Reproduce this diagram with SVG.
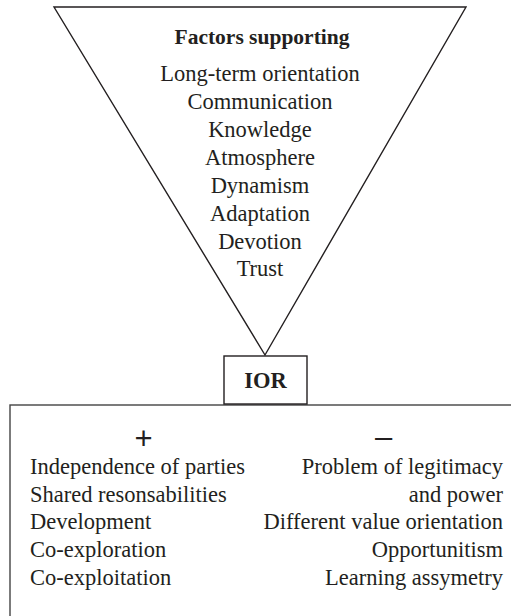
<svg xmlns="http://www.w3.org/2000/svg" width="511" height="616" viewBox="0 0 511 616">
<style>
text{font-family:"Liberation Serif","Times New Roman",serif;font-size:22.5px;fill:#231f20}
.b{font-weight:bold}
.c{text-anchor:middle}
.r{text-anchor:end}
.sign{font-family:"Liberation Sans",Arial,sans-serif;font-size:31px}
.shape{fill:#fff;stroke:#231f20;stroke-width:1.4}
</style>
<rect width="511" height="616" fill="#fff"/>
<g id="factors">
<polygon class="shape" points="54,7 466,7 265,355"/>
<text class="b c" x="262" y="44" style="font-size:21.5px">Factors supporting</text>
<text class="c" x="260" y="81">Long-term orientation</text>
<text class="c" x="260" y="109">Communication</text>
<text class="c" x="260" y="137">Knowledge</text>
<text class="c" x="260" y="165">Atmosphere</text>
<text class="c" x="260" y="193">Dynamism</text>
<text class="c" x="260" y="221">Adaptation</text>
<text class="c" x="260" y="249">Devotion</text>
<text class="c" x="260" y="276">Trust</text>
</g>
<g id="effects">
<rect x="10" y="405" width="520" height="240" fill="#fff" stroke="#444" stroke-width="1.4"/>
<text class="c sign" x="143.5" y="449">+</text>
<text class="c sign" x="383.5" y="447">–</text>
<text x="30" y="474">Independence of parties</text>
<text x="30" y="502">Shared resonsabilities</text>
<text x="30" y="529">Development</text>
<text x="30" y="557">Co-exploration</text>
<text x="30" y="585">Co-exploitation</text>
<text class="r" x="503" y="474">Problem of legitimacy</text>
<text class="r" x="503" y="502">and power</text>
<text class="r" x="503" y="529">Different value orientation</text>
<text class="r" x="503" y="557">Opportunitism</text>
<text class="r" x="503" y="585">Learning assymetry</text>
</g>
<g id="ior">
<rect class="shape" x="224" y="356" width="83" height="48" stroke-width="1.6"/>
<text class="b c" x="265.5" y="388">IOR</text>
</g>
<g id="connectors"></g>
</svg>
